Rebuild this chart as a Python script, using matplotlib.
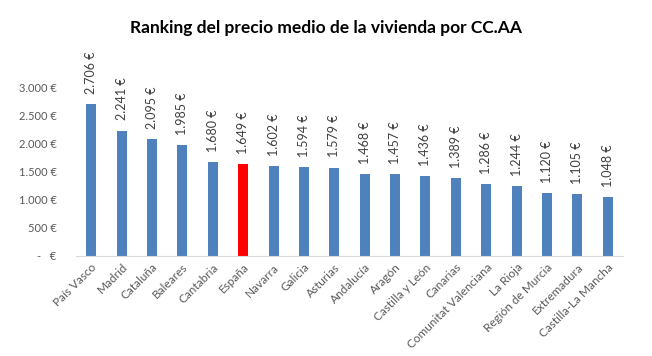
import matplotlib.pyplot as plt
from matplotlib.ticker import FuncFormatter

regiones = ['País Vasco', 'Madrid', 'Cataluña', 'Baleares', 'Cantabria', 'España',
            'Navarra', 'Galicia', 'Asturias', 'Andalucía', 'Aragón', 'Castilla y León',
            'Canarias', 'Comunitat Valenciana', 'La Rioja', 'Región de Murcia',
            'Extremadura', 'Castilla-La Mancha']
precios = [2706, 2241, 2095, 1985, 1680, 1649, 1602, 1594, 1579, 1468, 1457, 1436,
           1389, 1286, 1244, 1120, 1105, 1048]

plt.rcParams['font.family'] = ['Lato', 'DejaVu Sans']

colores = ['#ff0000' if r == 'España' else '#4f81bd' for r in regiones]


def euro(v):
    if v == 0:
        return '-   €'
    return f'{v:,.0f} €'.replace(',', '.')


fig = plt.figure(figsize=(6.52, 3.56), dpi=100)
ax = fig.add_axes([76 / 652, 1 - 256 / 356, 547 / 652, 196 / 356])

x = range(len(regiones))
ax.bar(x, precios, width=0.33, color=colores)

for xi, v in zip(x, precios):
    ax.text(xi, v + 180, euro(v), rotation=90, ha='center', va='bottom',
            fontsize=9, color='#404040')

ax.set_xlim(-0.5, len(regiones) - 0.5)
ax.set_ylim(0, 3500)
ax.set_yticks(range(0, 3001, 500))
ax.yaxis.set_major_formatter(FuncFormatter(lambda v, p: euro(v)))
ax.set_xticks(list(x))
ax.set_xticklabels(regiones, rotation=45, ha='right', rotation_mode='anchor')

ax.tick_params(axis='y', length=0, pad=14, labelsize=8, labelcolor='#595959')
ax.tick_params(axis='x', length=0, pad=4, labelsize=8.5, labelcolor='#595959')
for s in ['top', 'right', 'left']:
    ax.spines[s].set_visible(False)
ax.spines['bottom'].set_color('#d9d9d9')

fig.text(0.5, 1 - 28 / 356, 'Ranking del precio medio de la vivienda por CC.AA',
         ha='center', va='center', fontsize=12.5, fontweight='bold', color='black')

fig.savefig('out.png', dpi=100)
